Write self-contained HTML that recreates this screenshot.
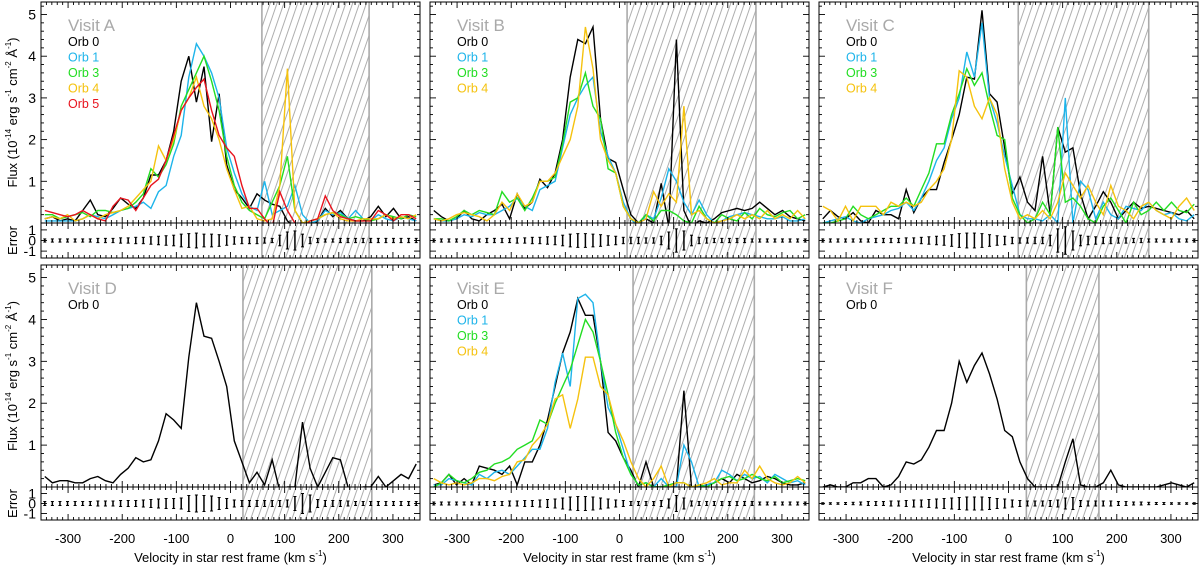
<!DOCTYPE html>
<html><head><meta charset="utf-8"><style>
html,body{margin:0;padding:0;background:#fff;}
svg{display:block;font-family:"Liberation Sans",Arial,sans-serif;}
</style></head><body>
<svg id="chart" width="1200" height="570" viewBox="0 0 1200 570" xmlns="http://www.w3.org/2000/svg">
<defs>
<pattern id="hatch" patternUnits="userSpaceOnUse" width="6.5" height="10" patternTransform="rotate(19)">
<line x1="3" y1="0" x2="3" y2="10" stroke="#9a9a9a" stroke-width="0.8"/>
</pattern>
</defs>
</svg>
<script>
const vel = [-343,-329,-315,-301,-287,-273,-259,-245,-231,-217,-203,-189,-175,-161,-147,-133,-119,-105,-91,-77,-63,-49,-35,-21,-7,7,21,35,49,63,77,91,105,119,133,147,161,175,189,203,217,231,245,259,273,287,301,315,329,343];
const xTicks = [-300,-200,-100,0,100,200,300];
const yTicks = [1,2,3,4,5];
const errTicks = [1,0,-1];

const fluxA0 = [0.1,0.15,0.05,0.1,0.05,0.3,0.55,0.2,0.15,0.35,0.6,0.45,0.35,0.6,1.15,1.15,1.5,2.2,3.4,4.0,2.9,3.75,1.95,3.1,1.4,0.8,0.6,0.35,0.7,0.55,0.45,0.4,0.05,-0.1,0.0,-0.1,0.05,0.35,0.15,0.3,0.1,0.05,0.05,0.15,0.4,0.15,0.35,0.1,0.15,0.05];
const fluxA1 = [0.05,0.05,0.05,0.05,0.05,0.1,0.2,0.15,0.1,0.2,0.3,0.35,0.4,0.5,0.35,0.75,0.9,1.6,2.1,3.5,4.3,4.0,3.6,3.0,1.8,1.2,0.7,0.4,0.3,1.0,0.2,0.3,0.4,0.9,0.2,0.0,0.05,0.3,0.2,0.25,0.1,0.3,0.1,0.05,0.2,0.1,0.05,0.15,0.1,0.05];
const fluxA3 = [0.2,0.2,0.1,0.15,0.2,0.25,0.15,0.3,0.3,0.25,0.3,0.35,0.5,0.7,1.3,1.1,1.4,1.9,2.8,3.2,3.6,4.0,3.4,2.7,1.6,0.9,0.5,0.3,0.2,0.1,0.5,0.9,1.6,0.3,0.0,0.05,0.1,0.2,0.25,0.2,0.1,0.15,0.1,0.05,0.1,0.2,0.15,0.1,0.2,0.15];
const fluxA4 = [0.1,0.15,0.1,0.2,0.05,0.1,0.2,0.1,0.2,0.25,0.3,0.4,0.6,0.8,1.0,1.85,1.5,2.0,2.7,3.0,3.5,2.8,2.5,2.0,1.3,0.8,0.35,0.4,0.1,0.05,0.1,0.9,3.7,0.3,0.0,0.05,0.1,0.2,0.25,0.1,0.05,0.05,0.1,0.1,0.1,0.2,0.1,0.15,0.1,0.2];
const fluxA5 = [0.3,0.25,0.2,0.15,0.2,0.3,0.2,0.1,0.05,0.4,0.6,0.55,0.3,0.6,0.9,1.05,1.5,2.1,2.7,3.0,3.25,3.45,2.7,2.1,1.8,1.6,0.9,0.35,0.35,0.1,-0.1,0.75,0.3,0.0,-0.1,0.05,0.1,0.65,0.3,0.15,0.1,0.05,0.05,0.05,0.3,0.2,0.05,0.2,0.2,0.1];

const fluxB0 = [0.3,0.15,0.05,0.1,0.3,0.1,0.05,0.2,0.3,0.45,0.1,0.7,0.35,0.5,1.05,0.85,1.2,2.0,3.5,4.4,4.3,4.7,2.5,1.55,1.45,0.8,0.2,0.0,0.1,0.0,0.95,-0.1,4.4,0.3,-0.1,0.05,0.0,0.1,0.25,0.3,0.35,0.3,0.35,0.5,0.35,0.2,0.3,0.15,0.1,0.05];
const fluxB1 = [0.1,0.05,0.05,0.1,0.2,0.15,0.25,0.2,0.2,0.3,0.4,0.6,0.4,0.3,0.8,0.9,1.0,1.8,2.6,3.0,3.3,3.5,2.2,1.6,1.2,0.5,0.1,-0.1,0.2,0.1,0.6,1.3,1.0,0.5,0.2,0.55,0.2,0.0,0.05,0.15,0.2,0.25,0.2,0.15,0.1,0.1,0.15,0.05,0.05,0.1];
const fluxB3 = [0.1,0.1,0.05,0.15,0.3,0.2,0.3,0.25,0.2,0.75,0.5,0.6,0.3,0.6,1.0,1.0,1.1,1.9,2.9,3.0,3.6,2.8,2.5,1.3,1.2,0.4,0.1,0.0,0.2,0.05,0.3,0.3,0.2,0.05,0.0,0.4,0.1,0.0,0.2,0.1,0.05,0.25,0.1,0.35,0.2,0.15,0.25,0.3,0.1,0.2];
const fluxB4 = [0.1,0.05,0.1,0.2,0.25,0.2,0.15,0.05,0.2,0.5,0.3,0.7,0.4,0.5,1.0,1.0,1.2,1.6,2.0,2.8,4.7,3.7,2.0,1.5,1.2,0.4,0.1,0.0,0.1,0.75,0.4,0.7,0.5,2.8,0.2,0.3,0.1,0.0,0.05,0.1,0.2,0.1,0.2,0.1,0.3,0.1,0.2,0.1,0.3,0.1];

const fluxC0 = [0.1,0.3,0.15,0.1,0.25,0.05,0.0,0.3,0.2,0.2,0.1,0.8,0.25,0.6,0.8,0.8,1.45,2.0,2.6,3.5,3.45,5.1,3.1,2.9,1.8,0.7,1.1,0.5,0.3,1.6,0.2,2.3,1.7,1.8,0.7,0.1,0.4,0.75,0.5,0.1,0.3,0.5,0.35,0.4,0.35,0.3,0.25,0.2,0.3,0.1];
const fluxC1 = [0.0,0.05,0.1,0.15,0.05,0.0,0.1,0.15,0.2,0.3,0.35,0.5,0.3,0.6,1.0,1.5,1.8,2.5,3.0,4.1,3.5,4.8,3.0,2.4,1.6,0.9,0.2,0.1,0.1,0.05,0.2,0.0,3.0,0.0,1.0,0.8,0.1,0.5,0.2,0.1,0.4,0.35,0.3,0.5,0.3,0.2,0.25,0.1,0.05,0.2];
const fluxC3 = [0.0,0.0,0.05,0.1,0.4,0.2,0.1,0.2,0.3,0.4,0.4,0.6,0.4,0.8,1.2,1.9,1.9,2.6,3.1,3.7,3.3,3.6,2.8,2.1,2.0,0.6,0.2,0.0,0.1,0.5,0.2,2.3,0.5,0.6,0.4,0.1,0.0,0.4,0.6,0.3,0.0,0.5,0.2,0.3,0.5,0.3,0.5,0.3,0.25,0.45];
const fluxC4 = [0.4,0.3,0.05,0.4,0.05,0.4,0.4,0.4,0.2,0.5,0.4,0.5,0.4,0.5,0.8,1.0,1.3,2.0,3.65,3.5,2.8,2.5,3.0,2.6,1.3,0.5,0.1,0.2,0.1,0.3,0.1,0.5,1.2,0.9,0.6,0.9,0.5,0.2,0.9,0.4,0.3,0.1,0.4,0.5,0.3,0.2,0.1,0.4,0.6,0.3];

const fluxD0 = [0.25,0.1,0.15,0.15,0.1,0.1,0.2,0.25,0.15,0.1,0.3,0.45,0.7,0.6,0.65,1.1,1.75,1.6,1.4,3.1,4.4,3.6,3.55,3.0,2.4,1.1,0.6,0.1,0.35,0.05,0.65,-0.1,0.0,0.0,1.55,0.45,0.0,0.35,0.7,0.65,0.0,-0.1,0.0,0.0,0.25,0.0,0.15,0.3,0.2,0.55];

const fluxE0 = [0.05,0.1,0.3,0.05,0.2,0.05,0.5,0.45,0.4,0.3,0.5,0.05,0.6,0.6,1.0,1.6,2.4,3.2,3.7,4.5,4.1,4.1,3.0,1.3,1.1,0.7,0.4,0.0,0.6,0.0,0.0,0.0,0.0,2.3,0.0,0.0,0.05,0.1,0.2,0.1,0.3,0.2,0.1,0.15,0.25,0.2,0.1,0.05,0.05,0.1];
const fluxE1 = [0.05,0.05,0.2,0.15,0.1,0.05,0.3,0.2,0.35,0.4,0.3,0.5,0.7,0.9,0.9,1.4,2.5,3.2,2.4,4.5,4.6,4.4,3.0,1.9,1.5,0.9,0.3,0.05,0.1,0.0,0.2,0.0,0.0,1.0,0.6,0.0,0.05,0.1,0.4,0.3,0.15,0.3,0.2,0.25,0.1,0.3,0.2,0.1,0.15,0.05];
const fluxE3 = [0.0,0.1,0.3,0.15,0.1,0.2,0.35,0.4,0.55,0.6,0.7,0.9,1.0,1.1,1.6,1.5,2.0,2.4,2.8,3.4,4.0,3.7,3.0,2.2,1.3,0.7,0.3,0.05,0.1,0.0,0.0,0.05,0.1,0.1,0.0,0.05,0.0,0.1,0.2,0.25,0.15,0.2,0.3,0.2,0.15,0.25,0.1,0.15,0.2,0.15];
const fluxE4 = [0.2,0.1,0.05,0.1,0.05,0.1,0.2,0.2,0.15,0.25,0.3,0.6,0.65,1.0,1.2,1.5,2.1,2.2,1.4,2.1,3.1,3.1,2.4,2.2,1.5,1.1,0.6,0.2,0.0,0.2,0.5,0.0,0.1,0.1,0.0,0.05,0.1,0.2,0.05,0.1,0.1,0.4,0.2,0.5,0.2,0.1,0.05,0.1,0.25,0.1];

const fluxF0 = [0.0,0.05,0.0,0.0,0.1,0.1,0.2,0.2,0.0,0.05,0.25,0.6,0.55,0.65,0.95,1.35,1.35,2.0,3.0,2.5,2.9,3.2,2.7,2.1,1.35,1.2,0.6,0.2,0.0,0.0,0.0,0.0,0.6,1.15,0.05,0.0,0.0,0.1,0.4,0.05,0.0,0.0,0.0,0.0,0.0,0.05,0.1,0.05,0.0,0.1];

const errA = [0.15,0.15,0.15,0.15,0.15,0.15,0.15,0.2,0.2,0.2,0.25,0.25,0.3,0.3,0.35,0.4,0.45,0.5,0.6,0.65,0.7,0.6,0.6,0.55,0.45,0.35,0.3,0.3,0.3,0.25,0.2,0.5,0.8,0.9,0.6,0.3,0.2,0.15,0.15,0.2,0.2,0.2,0.2,0.2,0.2,0.2,0.2,0.2,0.2,0.2];
const errB = [0.15,0.15,0.15,0.15,0.15,0.15,0.15,0.2,0.2,0.2,0.2,0.25,0.25,0.3,0.3,0.35,0.4,0.5,0.6,0.65,0.65,0.6,0.55,0.45,0.4,0.3,0.3,0.3,0.25,0.25,0.4,0.8,1.1,0.9,0.5,0.3,0.25,0.2,0.2,0.2,0.2,0.2,0.15,0.15,0.15,0.15,0.15,0.15,0.15,0.15];
const errC = [0.15,0.15,0.15,0.15,0.15,0.15,0.15,0.2,0.2,0.2,0.2,0.25,0.25,0.3,0.35,0.4,0.45,0.55,0.65,0.7,0.7,0.65,0.55,0.45,0.4,0.3,0.25,0.25,0.3,0.3,0.5,1.1,1.3,0.9,0.5,0.4,0.35,0.3,0.3,0.25,0.25,0.2,0.2,0.15,0.15,0.15,0.15,0.15,0.15,0.15];
const errD = [0.2,0.2,0.2,0.2,0.2,0.2,0.2,0.25,0.25,0.25,0.3,0.3,0.3,0.35,0.4,0.45,0.5,0.5,0.55,0.8,0.85,0.8,0.75,0.6,0.5,0.35,0.3,0.3,0.3,0.3,0.3,0.3,0.35,0.7,1.0,0.85,0.4,0.3,0.3,0.3,0.25,0.2,0.2,0.2,0.2,0.2,0.2,0.2,0.2,0.2];
const errE = [0.15,0.15,0.15,0.15,0.15,0.15,0.15,0.2,0.2,0.2,0.25,0.25,0.3,0.3,0.35,0.4,0.45,0.55,0.65,0.7,0.7,0.65,0.55,0.45,0.35,0.3,0.2,0.2,0.2,0.2,0.3,0.45,0.8,0.55,0.25,0.2,0.2,0.2,0.2,0.2,0.2,0.2,0.2,0.15,0.15,0.15,0.15,0.15,0.15,0.15];
const errF = [0.08,0.08,0.08,0.1,0.12,0.15,0.2,0.2,0.2,0.25,0.25,0.3,0.35,0.35,0.4,0.45,0.5,0.55,0.6,0.65,0.65,0.65,0.6,0.5,0.45,0.35,0.3,0.25,0.25,0.25,0.3,0.35,0.55,0.6,0.3,0.25,0.25,0.25,0.25,0.2,0.2,0.15,0.15,0.12,0.1,0.1,0.08,0.08,0.08,0.08];

const colors = {o0:'#000000',o1:'#1db4ea',o3:'#22dd22',o4:'#f5c20e',o5:'#e8141e'};

const panels = [
 {id:'a',label:'Visit A',left:41,top:2,mb:223,eb:258,hatch:[58,256],err:errA,series:[['Orb 0',fluxA0,colors.o0],['Orb 1',fluxA1,colors.o1],['Orb 3',fluxA3,colors.o3],['Orb 4',fluxA4,colors.o4],['Orb 5',fluxA5,colors.o5]],yl:true,xl:false},
 {id:'b',label:'Visit B',left:430,top:2,mb:223,eb:258,hatch:[14,252],err:errB,series:[['Orb 0',fluxB0,colors.o0],['Orb 1',fluxB1,colors.o1],['Orb 3',fluxB3,colors.o3],['Orb 4',fluxB4,colors.o4]],yl:false,xl:false},
 {id:'c',label:'Visit C',left:819,top:2,mb:223,eb:258,hatch:[18,259],err:errC,series:[['Orb 0',fluxC0,colors.o0],['Orb 1',fluxC1,colors.o1],['Orb 3',fluxC3,colors.o3],['Orb 4',fluxC4,colors.o4]],yl:false,xl:false},
 {id:'d',label:'Visit D',left:41,top:265,mb:487,eb:520,hatch:[23,261],err:errD,series:[['Orb 0',fluxD0,colors.o0]],yl:true,xl:true},
 {id:'e',label:'Visit E',left:430,top:265,mb:487,eb:520,hatch:[25,249],err:errE,series:[['Orb 0',fluxE0,colors.o0],['Orb 1',fluxE1,colors.o1],['Orb 3',fluxE3,colors.o3],['Orb 4',fluxE4,colors.o4]],yl:false,xl:true},
 {id:'f',label:'Visit F',left:819,top:265,mb:487,eb:520,hatch:[33,167],err:errF,series:[['Orb 0',fluxF0,colors.o0]],yl:false,xl:true}
];

const NS='http://www.w3.org/2000/svg';
const svg=document.getElementById('chart');
const defs=svg.querySelector('defs');
function mk(tag,attrs,parent){const e=document.createElementNS(NS,tag);for(const k in attrs)e.setAttribute(k,attrs[k]);(parent||svg).appendChild(e);return e;}

const W=379, YMAX=5.3;

panels.forEach(p=>{
 const xs=v=>p.left+(v+350)*W/700;
 const ys=v=>p.mb-v*(p.mb-p.top)/YMAX;
 const ec=(p.mb+p.eb)/2, es=(p.eb-p.mb)/3.3;
 const ey=v=>ec-v*es;
 const g=mk('g',{});
 
 
 const cp=mk('clipPath',{id:'clip-'+p.id},defs);
 mk('rect',{x:p.left,y:p.top,width:W,height:p.mb-p.top},cp);
 const cpe=mk('clipPath',{id:'clipe-'+p.id},defs);
 mk('rect',{x:p.left,y:p.mb,width:W,height:p.eb-p.mb},cpe);
 // hatch
 const hx0=xs(p.hatch[0]), hx1=xs(p.hatch[1]);
 const hr=mk('rect',{x:hx0,y:p.top,width:hx1-hx0,height:p.eb-p.top,fill:'url(#hatch)'},g);
 
 
 mk('line',{x1:hx0,y1:p.top,x2:hx0,y2:p.eb,stroke:'#aaa','stroke-width':1.6},g);
 mk('line',{x1:hx1,y1:p.top,x2:hx1,y2:p.eb,stroke:'#aaa','stroke-width':1.6},g);
 // series
 p.series.forEach((s,i)=>{
  const pts=vel.map((v,k)=>xs(v).toFixed(1)+','+ys(s[1][k]).toFixed(1)).join(' ');
  const pl=mk('polyline',{points:pts,fill:'none',stroke:s[2],'stroke-width':1.4,'stroke-linejoin':'miter','clip-path':'url(#clip-'+p.id+')'},g);
  
  
 });
 // error bars
 const eg=mk('g',{stroke:'#000','stroke-width':1.5,'clip-path':'url(#clipe-'+p.id+')'},g);
 
 
 vel.forEach((v,k)=>{
  const x=xs(v), e=p.err[k];
  mk('line',{x1:x,y1:ey(e),x2:x,y2:ey(-e)},eg);
  mk('line',{x1:x-1.5,y1:ey(e),x2:x+1.5,y2:ey(e),'stroke-width':1},eg);
  mk('line',{x1:x-1.5,y1:ey(-e),x2:x+1.5,y2:ey(-e),'stroke-width':1},eg);
 });
 // frames
 mk('rect',{x:p.left,y:p.top,width:W,height:p.mb-p.top,fill:'none',stroke:'#000','stroke-width':1},g);
 mk('rect',{x:p.left,y:p.mb,width:W,height:p.eb-p.mb,fill:'none',stroke:'#000','stroke-width':1},g);
 // ticks
 const tg=mk('g',{stroke:'#000','stroke-width':0.9},g);
 for(let v=-340;v<=340;v+=10){
  const x=xs(v), maj=(v%100===0), L=maj?6:3;
  [[p.top,1],[p.mb,-1],[p.mb,1],[p.eb,-1]].forEach(([y,d])=>mk('line',{x1:x,y1:y,x2:x,y2:y+d*L},tg));
 }
 for(let t=1;t<=26;t++){
  const v=t*0.2, y=ys(v), maj=(t%5===0), L=maj?6:3;
  mk('line',{x1:p.left,y1:y,x2:p.left+L,y2:y},tg);
  mk('line',{x1:p.left+W,y1:y,x2:p.left+W-L,y2:y},tg);
 }
 errTicks.forEach(t=>{
  mk('line',{x1:p.left,y1:ey(t),x2:p.left+6,y2:ey(t)},tg);
  mk('line',{x1:p.left+W,y1:ey(t),x2:p.left+W-6,y2:ey(t)},tg);
 });
 // tick labels
 if(p.yl){
  yTicks.forEach(t=>{
   const tx=mk('text',{x:p.left-5,y:ys(t)+5,'font-size':14,'text-anchor':'end',fill:'#000'},g);
   tx.textContent=t;
   
   
  });
  errTicks.forEach(t=>{
   const tx=mk('text',{x:p.left-5,y:ey(t)+5,'font-size':14,'text-anchor':'end',fill:'#000'},g);
   tx.textContent=t;
   
   
  });
 }
 if(p.xl){
  xTicks.forEach(t=>{
   const tx=mk('text',{x:xs(t),y:543,'font-size':13,'text-anchor':'middle',fill:'#000'},g);
   tx.textContent=t;
   
   
  });
  const xt=mk('text',{x:p.left+W/2,y:562,'font-size':13,'text-anchor':'middle',fill:'#000'},g);
  
  
  xt.innerHTML='Velocity in star rest frame (km s<tspan font-size="8" dy="-6">-1</tspan><tspan dy="6">)</tspan>';
 }
 // legend
 const lt=mk('text',{x:p.left+27,y:p.top+29,'font-size':17,fill:'#a9a9a9'},g);
 lt.textContent=p.label;
 
 
 p.series.forEach((s,i)=>{
  const t=mk('text',{x:p.left+27,y:p.top+44+i*15.5,'font-size':12.5,fill:s[2]},g);
  t.textContent=s[0];
  
  
 });
 // side labels
 if(p.yl){
  const fy=mk('text',{transform:'translate(17,'+((p.top+p.mb)/2)+') rotate(-90)','font-size':13,'text-anchor':'middle',fill:'#000'},g);
  
  
  fy.innerHTML='Flux (10<tspan font-size="8" dy="-6">-14</tspan><tspan dy="6"> erg s</tspan><tspan font-size="8" dy="-6">-1</tspan><tspan dy="6"> cm</tspan><tspan font-size="8" dy="-6">-2</tspan><tspan dy="6"> Å</tspan><tspan font-size="8" dy="-6">-1</tspan><tspan dy="6">)</tspan>';
  const er=mk('text',{transform:'translate(17,'+ec+') rotate(-90)','font-size':13,'text-anchor':'middle',fill:'#000'},g);
  er.textContent='Error';
  
  
 }
});
</script>
</body></html>
